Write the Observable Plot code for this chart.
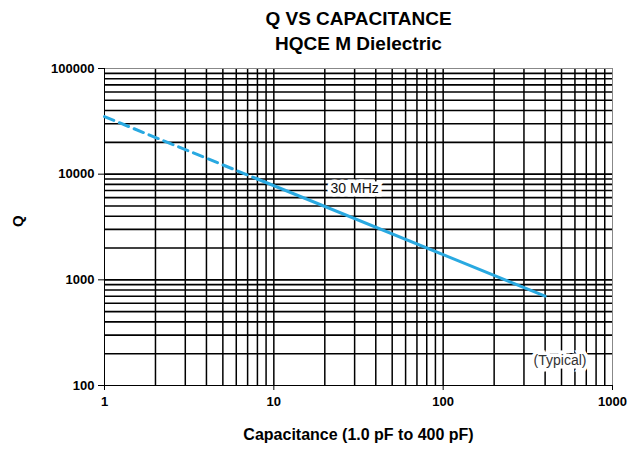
<!DOCTYPE html>
<html><head><meta charset="utf-8">
<script src="https://cdn.jsdelivr.net/npm/d3@7"></script>
<script src="https://cdn.jsdelivr.net/npm/@observablehq/plot@0.6"></script>
<style>body{margin:0;background:#fff;}</style>
</head><body><div id="chart"></div>
<script>
// Data
const dashedCap = [1, 8];
const dashedQ = [35000, 9000];
const solidCap = [8, 100, 400];
const solidQ = [9000, 1730, 700];

const xTicks = [1, 10, 100, 1000];
const yTicks = [100, 1000, 10000, 100000];
const xGrid = [2,3,4,5,6,7,8,9,10,20,30,40,50,60,70,80,90,100,200,300,400,500,600,700,800,900];
const yGrid = [200,300,400,500,600,700,800,900,1000,2000,3000,4000,5000,6000,7000,8000,9000,10000,20000,30000,40000,50000,60000,70000,80000,90000];

const titleLines = ["Q VS CAPACITANCE", "HQCE M Dielectric"];
const xLabel = "Capacitance (1.0 pF to 400 pF)";
const yLabel = "Q";
const annotations = [
  {text: "30 MHz", c: 30, q: 7260, color: "#111"},
  {text: "(Typical)", c: 490, q: 171, color: "#333"}
];

const dashed = dashedCap.map((c, i) => ({c, q: dashedQ[i]}));
const solid = solidCap.map((c, i) => ({c, q: solidQ[i]}));
const font = "'Liberation Sans', Arial, Helvetica, sans-serif";
const blue = "#29a9e1";

const chart = Plot.plot({
  width: 642,
  height: 450,
  marginTop: 68,
  marginBottom: 65,
  marginLeft: 104,
  marginRight: 30,
  style: {fontFamily: font, background: "white", color: "#000"},
  x: {type: "log", domain: [1, 1000]},
  y: {type: "log", domain: [100, 100000]},
  marks: [
    Plot.ruleX(xGrid, {stroke: "#000", strokeWidth: 1.5}),
    Plot.ruleY(yGrid, {stroke: "#000", strokeWidth: 1.6}),
    Plot.ruleX([1000], {stroke: "#888", strokeWidth: 1}),
    Plot.ruleY([100000], {stroke: "#888", strokeWidth: 1}),
    Plot.ruleX([1], {stroke: "#000", strokeWidth: 1}),
    Plot.ruleY([100], {stroke: "#000", strokeWidth: 1}),
    Plot.axisX({ticks: xTicks, tickFormat: d3.format("d"), tickSize: 5, tickPadding: 6, label: null,
      fontWeight: "bold", fontSize: 13}),
    Plot.axisY({ticks: yTicks, tickFormat: d3.format("d"), tickSize: 6, tickPadding: 4, label: null,
      fontWeight: "bold", fontSize: 13}),
    Plot.line(dashed, {x: "c", y: "q", stroke: blue, strokeWidth: 3, strokeDasharray: "10,6"}),
    Plot.line(solid, {x: "c", y: "q", stroke: blue, strokeWidth: 3}),
    Plot.text(annotations, {x: "c", y: "q", text: "text", fill: "color", stroke: "white", strokeWidth: 7,
      strokeLinejoin: "miter", fontSize: 14}),
    Plot.text([titleLines[0]], {text: d => d, frameAnchor: "top", lineAnchor: "middle", dy: -50, fontSize: 19, fontWeight: "bold"}),
    Plot.text([titleLines[1]], {text: d => d, frameAnchor: "top", lineAnchor: "middle", dy: -25, fontSize: 19, fontWeight: "bold"}),
    Plot.text([xLabel], {text: d => d, frameAnchor: "bottom", lineAnchor: "middle", dy: 49, fontSize: 16, fontWeight: "bold"}),
    Plot.text([yLabel], {text: d => d, frameAnchor: "left", dx: -86, rotate: -90, fontSize: 15, fontWeight: "bold"})
  ]
});
document.getElementById("chart").append(chart);
</script>
</body></html>
